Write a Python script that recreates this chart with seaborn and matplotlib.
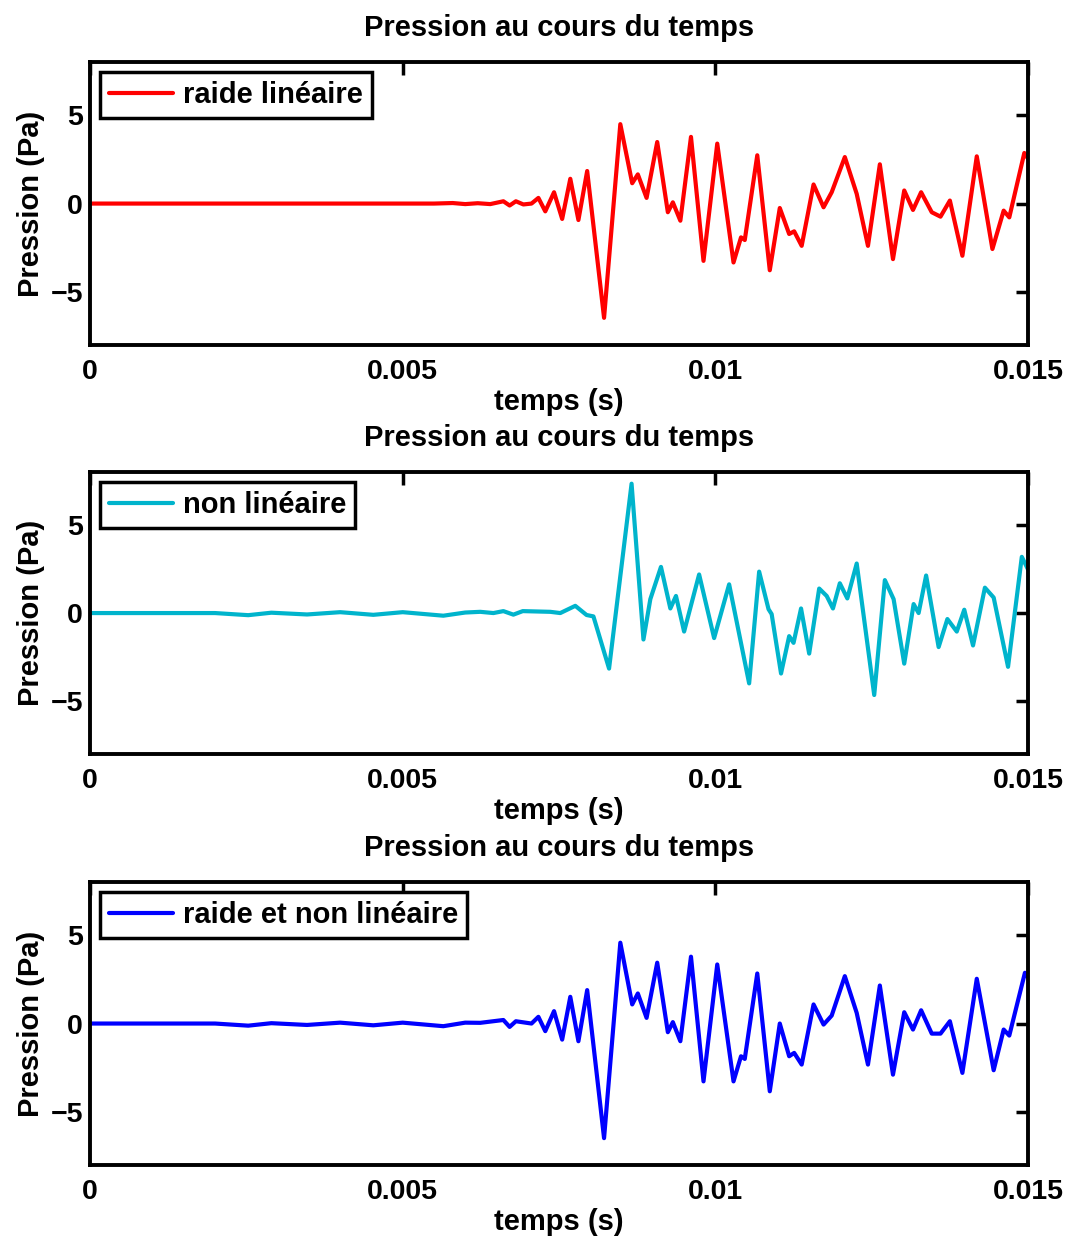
import pandas as pd
import matplotlib
matplotlib.use("Agg")
import matplotlib.pyplot as plt
import seaborn as sns

# data (time in s, pressure in Pa)
t_raide = [0, 0.0055, 0.0058, 0.0060, 0.0062, 0.00640, 0.00661, 0.00671, 0.00681, 0.00693,
           0.00706, 0.00717, 0.00728, 0.00742, 0.00755, 0.00768, 0.00781, 0.00795, 0.00822, 0.00848,
           0.00867, 0.00876, 0.00890, 0.00907, 0.00924, 0.00932, 0.00944, 0.00961, 0.00981, 0.01003,
           0.01029, 0.01041, 0.01047, 0.01067, 0.01087, 0.01103, 0.01118, 0.01126, 0.01138, 0.01157,
           0.01173, 0.01186, 0.01207, 0.01226, 0.01244, 0.01263, 0.01284, 0.01302, 0.01316, 0.01329,
           0.01346, 0.01360, 0.01375, 0.01395, 0.01418, 0.01443, 0.01461, 0.01470, 0.01494, 0.01500]
p_raide = [0, 0, 0.03, -0.03, 0.02, -0.03, 0.13, -0.11, 0.13, -0.05,
           0.0, 0.32, -0.44, 0.64, -0.87, 1.40, -0.93, 1.84, -6.46, 4.49,
           1.15, 1.65, 0.32, 3.48, -0.49, 0.07, -0.97, 3.77, -3.24, 3.39,
           -3.33, -1.91, -2.06, 2.73, -3.77, -0.25, -1.72, -1.57, -2.39, 1.08,
           -0.21, 0.64, 2.63, 0.55, -2.39, 2.22, -3.14, 0.74, -0.36, 0.64,
           -0.49, -0.74, 0.17, -2.95, 2.67, -2.57, -0.40, -0.78, 2.86, 2.54]

t_non = [0, 0.0020, 0.00253, 0.0029, 0.00347, 0.0040, 0.00453, 0.0050, 0.00565, 0.0060,
         0.00624, 0.00645, 0.00661, 0.00677, 0.00692, 0.00736, 0.00752, 0.00776, 0.00794, 0.00805,
         0.00830, 0.00866, 0.00885, 0.00896, 0.00913, 0.00928, 0.00937, 0.00950, 0.00974, 0.00998,
         0.01022, 0.01054, 0.01070, 0.01085, 0.01090, 0.01105, 0.01118, 0.01125, 0.01137, 0.01150,
         0.01166, 0.01178, 0.01188, 0.01199, 0.01211, 0.01226, 0.01254, 0.01271, 0.01285, 0.01302,
         0.01317, 0.01325, 0.01337, 0.01357, 0.01371, 0.01386, 0.01398, 0.01412, 0.01431, 0.01445,
         0.01468, 0.01490, 0.01500]
p_non = [0, 0, -0.12, 0.02, -0.08, 0.05, -0.10, 0.05, -0.15, 0.03,
         0.07, 0.0, 0.11, -0.09, 0.11, 0.07, 0.0, 0.41, -0.11, -0.19,
         -3.15, 7.34, -1.50, 0.79, 2.62, 0.26, 0.97, -1.05, 2.19, -1.42,
         1.63, -3.99, 2.35, 0.22, -0.06, -3.43, -1.31, -1.69, 0.26, -2.30,
         1.39, 0.97, 0.26, 1.69, 0.83, 2.81, -4.65, 1.87, 0.79, -2.87,
         0.51, 0.0, 2.13, -1.93, -0.34, -1.05, 0.19, -1.84, 1.44, 0.88,
         -3.05, 3.19, 2.47]

t_both = [0, 0.0020, 0.00253, 0.0029, 0.00347, 0.0040, 0.00453, 0.0050, 0.00565, 0.0060,
          0.00624, 0.00661, 0.00671, 0.00681, 0.00706, 0.00717, 0.00728, 0.00742, 0.00755, 0.00768,
          0.00781, 0.00795, 0.00822, 0.00848, 0.00867, 0.00876, 0.00890, 0.00907, 0.00924, 0.00932,
          0.00944, 0.00961, 0.00981, 0.01003, 0.01029, 0.01041, 0.01047, 0.01067, 0.01087, 0.01103,
          0.01118, 0.01126, 0.01138, 0.01157, 0.01173, 0.01186, 0.01207, 0.01226, 0.01244, 0.01263,
          0.01284, 0.01302, 0.01316, 0.01329, 0.01346, 0.01360, 0.01375, 0.01395, 0.01418, 0.01445,
          0.01461, 0.01470, 0.01495, 0.01500]
p_both = [0, 0, -0.12, 0.02, -0.08, 0.05, -0.10, 0.05, -0.15, 0.05,
          0.04, 0.20, -0.19, 0.13, 0.0, 0.38, -0.43, 0.70, -0.91, 1.51,
          -1.00, 1.89, -6.48, 4.57, 1.08, 1.70, 0.32, 3.44, -0.49, 0.08,
          -1.00, 3.78, -3.27, 3.34, -3.27, -1.85, -2.00, 2.83, -3.83, 0.0,
          -1.85, -1.66, -2.32, 1.08, -0.06, 0.45, 2.68, 0.60, -2.32, 2.15,
          -2.89, 0.64, -0.34, 0.75, -0.57, -0.57, 0.13, -2.79, 2.53, -2.64,
          -0.34, -0.68, 2.87, 2.60]

labels = ["raide linéaire", "non linéaire", "raide et non linéaire"]
colors = ["#ff0000", "#00b4cc", "#0000ff"]
x_ticks = [0, 0.005, 0.01, 0.015]
x_ticklabels = ["0", "0.005", "0.01", "0.015"]
y_ticks = [-5, 0, 5]

sns.set_style("white")
plt.rcParams["font.family"] = ["Liberation Sans", "DejaVu Sans"]
plt.rcParams["font.weight"] = "bold"
plt.rcParams["axes.labelweight"] = "bold"
plt.rcParams["axes.titleweight"] = "bold"
plt.rcParams["text.color"] = "black"
plt.rcParams["axes.labelcolor"] = "black"
plt.rcParams["xtick.color"] = "black"
plt.rcParams["ytick.color"] = "black"

fig = plt.figure(figsize=(10.69, 12.39), dpi=100)
boxes = [[0.0842, 0.7215, 0.8775, 0.2284],
         [0.0842, 0.3914, 0.8775, 0.2276],
         [0.0842, 0.0597, 0.8775, 0.2284]]

series = [(t_raide, p_raide), (t_non, p_non), (t_both, p_both)]

for i, (t, p) in enumerate(series):
    ax = fig.add_axes(boxes[i])
    df = pd.DataFrame({"temps": t, "pression": p})
    sns.lineplot(data=df, x="temps", y="pression", color=colors[i], linewidth=3.0,
                 label=labels[i], sort=False, estimator=None, ax=ax,
                 solid_joinstyle="round", solid_capstyle="round")
    ax.set_xlim(0, 0.015)
    ax.set_ylim(-8, 8)
    ax.set_xticks(x_ticks)
    ax.set_xticklabels(x_ticklabels)
    ax.set_yticks(y_ticks)
    ax.tick_params(direction="in", length=9, width=2.5, top=True, right=True,
                   labelsize=20.5, labelcolor="black")
    ax.tick_params(axis="x", pad=10)
    ax.tick_params(axis="y", pad=5)
    for lab in ax.get_xticklabels() + ax.get_yticklabels():
        lab.set_fontweight("bold")
    for s in ax.spines.values():
        s.set_linewidth(2.8)
        s.set_color("black")
    ax.set_title("Pression au cours du temps", fontsize=21, fontweight="bold", pad=19)
    ax.set_xlabel("temps (s)", fontsize=21, fontweight="bold", labelpad=2)
    ax.set_ylabel("Pression (Pa)", fontsize=21, fontweight="bold", labelpad=4)
    leg = ax.legend(loc="upper left", fancybox=False, frameon=True, framealpha=1,
                    edgecolor="black", fontsize=21, handlelength=2.2, handletextpad=0.35,
                    borderpad=0.3, borderaxespad=0.35)
    leg.get_frame().set_linewidth(2.5)
    for txt in leg.get_texts():
        txt.set_fontweight("bold")

fig.savefig("out.png", dpi=100)
